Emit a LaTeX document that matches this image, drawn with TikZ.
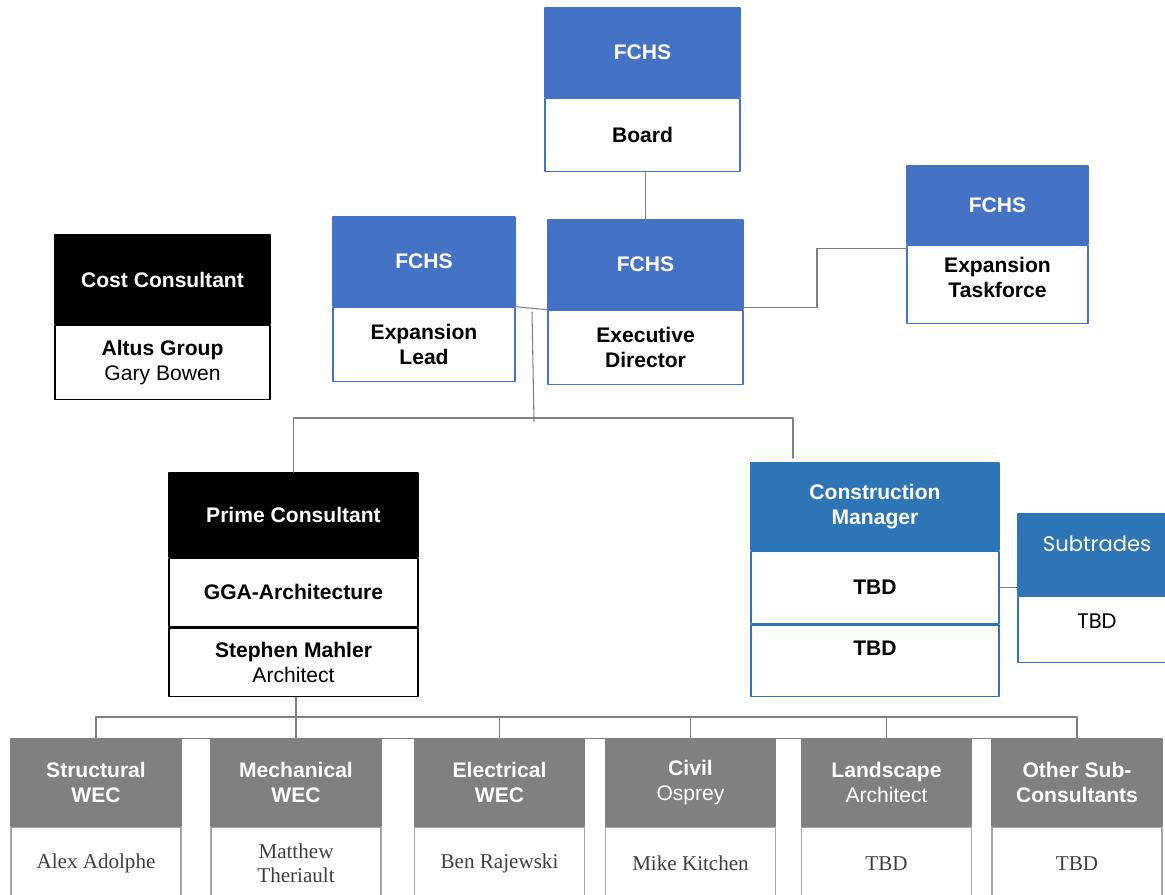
\documentclass[tikz,border=0pt]{standalone}
\usepackage{fontspec}
\usepackage{tikz}
\usetikzlibrary{positioning}
\setmainfont{Liberation Sans}
\newfontfamily\namefont{Liberation Serif}
\newfontfamily\tradefont{Poppins}
\definecolor{fchsblue}{HTML}{4472C4}
\definecolor{cmblue}{HTML}{2E75B6}
\definecolor{subgray}{HTML}{808080}
\definecolor{linegray}{HTML}{7F7F7F}
\definecolor{namegray}{HTML}{3F3F3F}
\tikzstyle{every node}=[font=\fontsize{12}{14}\selectfont]
\tikzstyle{head}=[rectangle,inner sep=2pt,align=center,text=white,font=\fontsize{12}{14}\selectfont\bfseries,line width=0.8pt]
\tikzstyle{bluehead}=[head,fill=fchsblue,draw=fchsblue]
\tikzstyle{cmhead}=[head,fill=cmblue,draw=cmblue]
\tikzstyle{blackhead}=[head,fill=black,draw=black]
\tikzstyle{grayhead}=[head,fill=subgray,draw=subgray,minimum width=3.4cm,minimum height=1.74cm]
\tikzstyle{body}=[rectangle,inner sep=2pt,align=center,fill=white,line width=0.8pt,font=\fontsize{12}{14}\selectfont\bfseries]
\tikzstyle{bluebody}=[body,draw=fchsblue]
\tikzstyle{cmbody}=[body,draw=cmblue]
\tikzstyle{blackbody}=[body,draw=black]
\tikzstyle{namebody}=[body,draw=subgray!70,text=namegray,minimum width=3.4cm,minimum height=1.44cm,font=\fontsize{12}{14}\selectfont\namefont]
\tikzstyle{link}=[draw=linegray,line width=0.6pt]

\begin{document}
\begin{tikzpicture}[line cap=round,line join=round,x=0.02cm,y=-0.02cm]
\useasboundingbox (0,0) rectangle (1165,894);
\clip (0,0) rectangle (1165,894);

% FCHS
\node[bluehead,minimum width=3.9cm,minimum height=1.78cm] (board-head) at (642.5,52.5) {FCHS};
\node[bluebody,minimum width=3.9cm,minimum height=1.46cm,below=0pt of board-head] (board-body) {Board};
\node[bluehead,minimum width=3.9cm,minimum height=1.78cm] (exec-head) at (645.5,264.5) {FCHS};
\node[bluebody,minimum width=3.9cm,minimum height=1.48cm,below=0pt of exec-head] (exec-body) {Executive\\Director};
\node[bluehead,minimum width=3.64cm,minimum height=1.78cm] (lead-head) at (424,261.5) {FCHS};
\node[bluebody,minimum width=3.64cm,minimum height=1.48cm,below=0pt of lead-head] (lead-body) {Expansion\\Lead};
\node[bluehead,minimum width=3.62cm,minimum height=1.56cm] (task-head) at (997.5,205) {FCHS};
\node[bluebody,minimum width=3.62cm,minimum height=1.56cm,below=0pt of task-head] (task-body) {Expansion\\Taskforce\\[-6pt]\mbox{}};

% consultants
\node[blackhead,minimum width=4.3cm,minimum height=1.78cm] (cost-head) at (162.5,279.5) {Cost Consultant};
\node[blackbody,minimum width=4.3cm,minimum height=1.48cm,below=0pt of cost-head] (cost-body) {Altus Group\\\mdseries Gary Bowen};
\node[blackhead,minimum width=4.98cm,minimum height=1.68cm] (prime-head) at (293.5,515) {Prime Consultant};
\node[blackbody,minimum width=4.98cm,minimum height=1.36cm,below=0pt of prime-head] (prime-gga) {GGA-Architecture};
\node[blackbody,minimum width=4.98cm,minimum height=1.38cm,below=0pt of prime-gga] (prime-sm) {Stephen Mahler\\\mdseries Architect};

% construction
\node[cmhead,minimum width=4.96cm,minimum height=1.74cm] (cm-head) at (875,506.5) {Construction\\Manager};
\node[cmbody,minimum width=4.96cm,minimum height=1.44cm,below=0pt of cm-head] (cm-tbd1) {TBD};
\node[cmbody,minimum width=4.96cm,minimum height=1.44cm,below=0pt of cm-tbd1] (cm-tbd2) {TBD\\\mbox{}};
\node[cmhead,minimum width=3.16cm,minimum height=1.62cm,font=\fontsize{12}{14}\selectfont\tradefont] (sub-head) at (1097,554.5) {Subtrades\\[-2pt]\mbox{}};
\node[cmbody,minimum width=3.16cm,minimum height=1.32cm,font=\fontsize{12}{14}\selectfont\tradefont,below=0pt of sub-head] (sub-body) {TBD\\[-5pt]\mbox{}};

% sub-consultants
\node[grayhead] (struct-head) at (96,782.5) {Structural\\WEC};
\node[namebody,below=0pt of struct-head] (struct-body) {Alex Adolphe};
\node[grayhead] (mech-head) at (296,782.5) {Mechanical\\WEC};
\node[namebody,below=0pt of mech-head] (mech-body) {Matthew\\Theriault};
\node[grayhead] (elec-head) at (499.5,782.5) {Electrical\\WEC};
\node[namebody,below=0pt of elec-head] (elec-body) {Ben Rajewski};
\node[grayhead] (civil-head) at (690.5,782.5) {Civil\\\mdseries Osprey};
\node[namebody,below=0pt of civil-head] (civil-body) {Mike Kitchen};
\node[grayhead] (land-head) at (886.5,782.5) {Landscape\\\mdseries Architect};
\node[namebody,below=0pt of land-head] (land-body) {TBD};
\node[grayhead] (other-head) at (1077,782.5) {Other Sub-\\Consultants};
\node[namebody,below=0pt of other-head] (other-body) {TBD};

% connectors
\coordinate (exec-tap) at (532,312);
\coordinate (split) at (534,418);
\coordinate (cm-drop) at (793,458);
\coordinate (task-bend) at (817,0);
\coordinate (bus) at (0,717);
\draw[link] (exec-head.north) -- (exec-head.north |- board-body.south);
\draw[link] (lead-head.south east) -- (exec-head.south west);
\draw[link] ([yshift=1pt]exec-head.south east) -| ([yshift=-2pt]task-bend |- task-head.south west) -- ([yshift=-2pt]task-head.south west);
\draw[link] (exec-tap) -- ([yshift=-2pt]split);
\draw[link] (prime-head.north) |- (split) -| (cm-drop);
\draw[link] (cm-tbd1.east) -- (cm-tbd1.east -| sub-head.west);
\draw[link] (mech-head.north |- prime-sm.south) -- (mech-head.north);
\draw[link] (struct-head.north) |- (other-head.north |- bus) -- (other-head.north);
\draw[link] (struct-head.north) -- (other-head.north);
\foreach \sc in {elec,civil,land}
  \draw[link] (\sc-head.north) -- (\sc-head.north |- bus);
\end{tikzpicture}
\end{document}
